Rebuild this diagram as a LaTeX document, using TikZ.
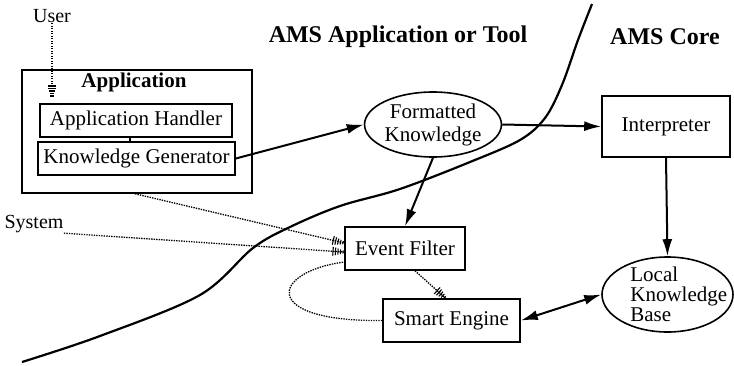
\documentclass[tikz,border=0pt]{standalone}
\usepackage{fontspec}
\setmainfont{Liberation Serif}
\usetikzlibrary{arrows.meta,shapes.geometric,decorations.markings}

\tikzset{
  box/.style={draw, line width=0.8pt, inner sep=0pt, font=\fontsize{10.5}{11}\selectfont},
  oval/.style={draw, ellipse, line width=0.8pt, inner sep=0pt, align=center},
  title/.style={font=\fontsize{12}{14}\selectfont\bfseries},
  lbl/.style={font=\fontsize{10}{12}\selectfont, inner sep=0pt},
  flow/.style={line width=1pt, -{Latex[length=8.5pt,width=5pt]}},
  biflow/.style={line width=1pt, {Latex[length=8.5pt,width=5pt]}-{Latex[length=8.5pt,width=5pt]}},
  % dotted event line ending in a tapering comb of bars
  evt/.style={line width=0.65pt, dash pattern=on 0.7pt off 0.55pt,
    postaction={decorate},
    decoration={markings, mark=at position 1 with {
      \foreach \k/\h in {0/0.8,1/1.2,2/1.55,3/1.9,4/2.2}
        \draw[solid, line width=0.55pt] ({-0.6pt-\k*1.25pt},{-\h*1pt}) -- ({-0.6pt-\k*1.25pt},{\h*1pt});
    }}},
  divider/.style={line width=1.1pt}
}

\begin{document}
\begin{tikzpicture}[x=0.5pt,y=-0.5pt]
\useasboundingbox (0,0) rectangle (734,365);

% region titles
\node[title] (t1) at (398,37) {AMS Application or Tool};
\node[title] (t2) at (665,37) {AMS Core};

% boundary between application side and core
\draw[divider] plot[smooth, tension=0.55] coordinates {
  (22,362) (100,336) (200,295) (253,248) (290,227) (340,206) (400,189)
  (470,162) (520,140) (545,118) (562,85) (578,40) (592,4)};

% application block
\node[draw, line width=0.8pt, minimum width=115pt, minimum height=61.5pt, inner sep=0pt] (app) at (137,131.5) {};
\node[font=\fontsize{10.5}{12}\selectfont\bfseries, inner sep=0pt] (apptitle) at (134,82) {Application};
\node[box, minimum width=96pt, minimum height=16.5pt] (ah) at (136,120.5) {Application Handler};
\node[box, minimum width=98.5pt, minimum height=16.5pt] (kg) at (136.5,158.5) {Knowledge Generator};
\draw[line width=0.6pt] ([xshift=-3pt]ah.south) -- ([xshift=-3pt]ah.south |- kg.north);

% external sources
\node[lbl] (user) at (52,16) {User};
\node[lbl] (sys) at (34,224) {System};

% processing nodes
\node[oval, minimum width=66.5pt, minimum height=32.5pt, font=\fontsize{10.5}{11.5}\selectfont] (fk) at (433,124.5) {Formatted\\Knowledge};
\node[box, minimum width=64pt, minimum height=30.5pt] (interp) at (666,126.5) {Interpreter};
\node[box, minimum width=60pt, minimum height=21.5pt] (ef) at (405,248.5) {Event Filter};
\node[box, minimum width=68.5pt, minimum height=21.5pt] (se) at (451.5,320.5) {Smart Engine};
\node[draw, ellipse, line width=0.8pt, inner sep=0pt, minimum width=65.5pt, minimum height=37.5pt] (lkb) at (667.5,294.5) {};
\node[align=left, inner sep=0pt, font=\fontsize{10.5}{10}\selectfont, anchor=west] (lkbtext) at (630,294) {Local\\Knowledge\\Base};

% solid data flow
\draw[flow] (kg.east) -- (fk.west);
\draw[flow] (fk.east) -- (interp.west);
\draw[flow] (fk.south) -- (ef.north);
\draw[flow] (interp.south) -- (lkb.north);
\draw[biflow] (se.east) -- (lkb.west);

% event lines
\draw[evt] (user.south) -- ([yshift=3pt]user.south |- ah.north);
\draw[evt] ([xshift=-1pt]app.south) -- ([yshift=2.75pt]ef.west);
\draw[evt] (sys.south east) -- ([yshift=-1.75pt]ef.west);
\draw[evt] (se.west) .. controls (260,322) and (270,272) .. ([yshift=-6.75pt]ef.west);
\draw[evt] ([xshift=5pt]ef.south) -- ([xshift=-3pt]se.north);
\end{tikzpicture}
\end{document}
